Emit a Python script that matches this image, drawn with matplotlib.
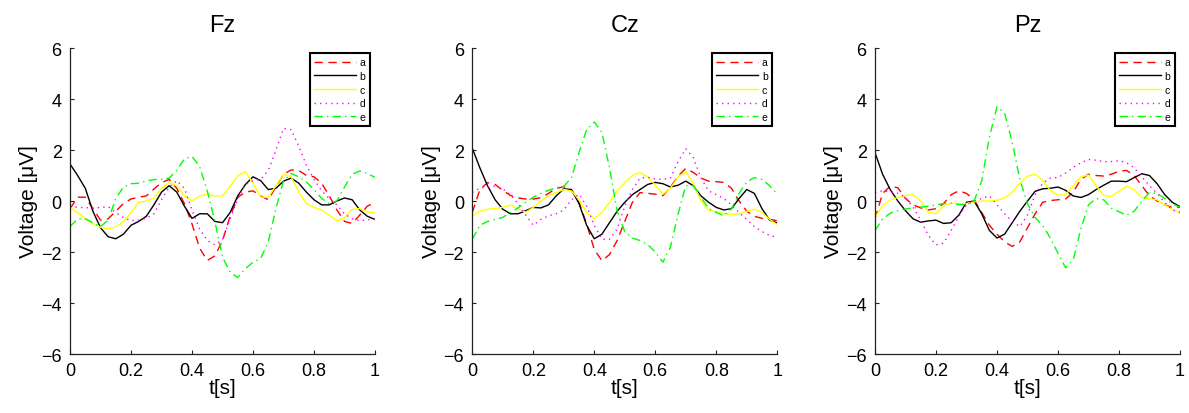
import numpy as np
import matplotlib
matplotlib.use("Agg")
import matplotlib.pyplot as plt

plt.rcParams['font.family'] = ['Liberation Sans', 'DejaVu Sans']

# time grid [s], 0.025 s steps
t = np.arange(41) * 0.025

# Fz
fz_a = [-0.3, 0.15, 0.15, -0.3, -0.75, -0.7, -0.4, -0.1, 0.08, 0.15, 0.2, 0.47, 0.72, 0.85, 0.5, -0.1,
        -0.9, -1.85, -2.33, -2.15, -1.55, -0.6, 0.15, 0.35, 0.4, 0.2, 0.05, 0.55, 1.05, 1.22, 1.2, 1.0,
        0.95, 0.7, 0.2, -0.35, -0.8, -0.88, -0.55, -0.2, -0.05]
fz_b = [1.45, 1.0, 0.5, -0.4, -1.05, -1.4, -1.48, -1.3, -0.95, -0.8, -0.6, -0.15, 0.35, 0.6, 0.35, -0.2,
        -0.68, -0.5, -0.5, -0.8, -0.85, -0.45, 0.2, 0.65, 0.95, 0.8, 0.45, 0.5, 0.78, 0.9, 0.7, 0.35,
        0.05, -0.15, -0.15, 0.0, 0.12, 0.05, -0.35, -0.6, -0.72]
fz_c = [-0.25, -0.45, -0.68, -0.88, -1.03, -1.1, -1.02, -0.8, -0.45, -0.05, 0.0, 0.1, 0.5, 0.72, 0.6, 0.2,
        0.0, 0.2, 0.26, 0.2, 0.2, 0.58, 1.0, 1.15, 0.7, 0.15, 0.15, 0.6, 1.05, 0.95, 0.35, -0.1,
        -0.25, -0.35, -0.55, -0.78, -0.65, -0.33, -0.3, -0.42, -0.47]
fz_d = [-0.2, -0.25, -0.26, -0.27, -0.25, -0.22, -0.45, -0.65, -0.77, -0.75, -0.68, -0.5, 0.05, 0.55, 0.8, 0.5,
        -0.35, -1.1, -1.55, -1.72, -1.5, -0.7, 0.1, 0.65, 0.8, 0.85, 1.2, 2.0, 2.85, 2.8, 2.15, 1.4,
        0.85, 0.4, 0.1, -0.15, -0.5, -0.7, -0.77, -0.74, -0.7]
fz_e = [-1.0, -0.7, -0.7, -0.85, -1.0, -0.75, 0.1, 0.55, 0.68, 0.7, 0.78, 0.84, 0.86, 0.9, 1.2, 1.65,
        1.75, 1.35, 0.4, -0.8, -2.2, -2.8, -3.0, -2.65, -2.4, -2.25, -1.6, -0.3, 0.8, 1.08, 0.95, 0.75,
        0.45, 0.1, -0.1, 0.0, 0.55, 1.05, 1.18, 1.08, 0.93]

# Cz
cz_a = [-0.45, 0.45, 0.72, 0.65, 0.42, 0.22, 0.12, 0.08, 0.08, 0.13, 0.3, 0.5, 0.56, 0.45, -0.05, -0.9,
        -1.9, -2.34, -2.1, -1.55, -0.8, -0.05, 0.33, 0.3, 0.27, 0.21, 0.55, 0.98, 1.28, 1.12, 0.9, 0.78,
        0.76, 0.73, 0.5, 0.0, -0.4, -0.6, -0.68, -0.72, -0.77]
cz_b = [2.07, 1.3, 0.6, 0.05, -0.32, -0.5, -0.5, -0.38, -0.25, -0.27, -0.15, 0.2, 0.48, 0.45, -0.1, -0.95,
        -1.48, -1.3, -0.85, -0.4, -0.05, 0.25, 0.45, 0.65, 0.73, 0.68, 0.55, 0.62, 0.78, 0.6, 0.2, -0.05,
        -0.25, -0.35, -0.3, 0.1, 0.45, 0.3, -0.3, -0.75, -0.86]
cz_c = [-0.58, -0.4, -0.32, -0.29, -0.25, -0.16, -0.3, -0.44, -0.25, 0.0, 0.2, 0.33, 0.45, 0.4, 0.05, -0.45,
        -0.68, -0.45, -0.05, 0.4, 0.72, 1.0, 1.12, 0.95, 0.62, 0.27, 0.5, 0.95, 1.15, 0.7, 0.0, -0.35,
        -0.42, -0.5, -0.52, -0.5, -0.4, -0.32, -0.45, -0.72, -0.93]
cz_d = [0.34, 0.5, 0.56, 0.58, 0.48, 0.25, -0.1, -0.55, -0.95, -0.72, -0.58, -0.5, -0.35, 0.05, 0.27, -0.2,
        -0.95, -1.5, -1.5, -1.1, -0.2, 0.45, 0.9, 0.93, 0.87, 0.85, 0.9, 1.55, 2.05, 1.7, 0.9, 0.4,
        0.25, 0.1, -0.15, -0.45, -0.72, -1.0, -1.2, -1.35, -1.42]
cz_e = [-1.5, -0.95, -0.8, -0.72, -0.64, -0.45, -0.27, -0.05, 0.15, 0.3, 0.42, 0.52, 0.58, 0.9, 1.9, 2.8,
        3.1, 2.7, 1.3, -0.4, -1.2, -1.45, -1.55, -1.7, -2.0, -2.4, -1.8, -0.5, 0.6, 0.6, 0.15, -0.3,
        -0.45, -0.58, -0.3, 0.3, 0.75, 0.92, 0.85, 0.6, 0.27]

# Pz
pz_a = [-0.7, 0.3, 0.58, 0.52, 0.1, -0.15, -0.27, -0.35, -0.3, -0.1, 0.25, 0.4, 0.3, 0.05, -0.45, -0.95,
        -1.3, -1.6, -1.78, -1.6, -1.05, -0.5, -0.05, 0.02, 0.05, 0.08, 0.35, 0.85, 1.05, 1.0, 0.98, 1.05,
        1.17, 1.2, 1.0, 0.6, 0.21, 0.0, -0.15, -0.25, -0.25]
pz_b = [1.9, 1.05, 0.45, 0.0, -0.38, -0.7, -0.83, -0.78, -0.75, -0.88, -0.85, -0.55, -0.05, 0.0, -0.5, -1.15,
        -1.45, -1.3, -0.85, -0.4, 0.0, 0.38, 0.48, 0.5, 0.55, 0.42, 0.2, 0.14, 0.25, 0.45, 0.62, 0.78,
        0.78, 0.76, 0.92, 1.07, 1.0, 0.68, 0.25, -0.05, -0.22]
pz_c = [-0.64, -0.18, 0.04, 0.14, 0.21, 0.25, 0.0, -0.45, -0.5, -0.2, -0.08, -0.1, -0.1, -0.03, 0.0, 0.0,
        0.03, 0.12, 0.34, 0.7, 0.98, 1.05, 0.8, 0.42, 0.22, 0.25, 0.6, 0.95, 1.02, 0.6, 0.22, 0.18,
        0.38, 0.58, 0.45, 0.14, 0.08, 0.05, -0.15, -0.32, -0.47]
pz_d = [0.34, 0.4, 0.36, 0.3, 0.15, -0.25, -0.75, -1.35, -1.72, -1.65, -1.15, -0.6, -0.15, 0.0, 0.1, 0.2,
        -0.15, -0.5, -0.8, -1.0, -0.55, 0.25, 0.7, 0.9, 0.92, 1.1, 1.32, 1.5, 1.63, 1.6, 1.54, 1.55,
        1.58, 1.5, 1.3, 0.95, 0.6, 0.3, -0.05, -0.35, -0.44]
pz_e = [-1.16, -0.7, -0.48, -0.38, -0.31, -0.27, -0.24, -0.2, -0.15, -0.1, -0.08, -0.14, -0.14, 0.0, 0.8, 2.5,
        3.7, 3.45, 2.3, 0.85, -0.1, -0.65, -0.97, -1.45, -2.05, -2.62, -2.3, -1.1, -0.15, 0.1, 0.05, -0.28,
        -0.42, -0.56, -0.4, 0.0, 0.34, 0.3, 0.1, -0.1, -0.25]

titles = ['Fz', 'Cz', 'Pz']
labels = ['a', 'b', 'c', 'd', 'e']
xticks = [0, 0.2, 0.4, 0.6, 0.8, 1]
xtick_labels = ['0', '0.2', '0.4', '0.6', '0.8', '1']
yticks = [-6, -4, -2, 0, 2, 4, 6]

panels = [[fz_a, fz_b, fz_c, fz_d, fz_e],
          [cz_a, cz_b, cz_c, cz_d, cz_e],
          [pz_a, pz_b, pz_c, pz_d, pz_e]]

colors = ['#ff0000', '#000000', '#ffff00', '#ff00ff', '#00ff00']
styles = [(0, (6, 4)), '-', '-', (0, (1, 3)), (0, (6, 3, 1, 3))]

fig = plt.figure(figsize=(11.89, 4.14), dpi=100)
lefts = [0.0589, 0.3972, 0.7359]

for i in range(3):
    ax = fig.add_axes([lefts[i], 0.1425, 0.2565, 0.739])
    for y, lab, c, ls in zip(panels[i], labels, colors, styles):
        ax.plot(t, y, color=c, linestyle=ls, linewidth=1, label=lab)
    ax.set_xlim(0, 1)
    ax.set_ylim(-6, 6)
    ax.set_xticks(xticks)
    ax.set_xticklabels(xtick_labels)
    ax.set_yticks(yticks)
    ax.tick_params(direction='in', length=3, labelsize=13, pad=6, colors='#222222', labelcolor='black')
    ax.spines['top'].set_visible(False)
    ax.spines['right'].set_visible(False)
    for s in ['left', 'bottom']:
        ax.spines[s].set_color('#222222')
        ax.spines[s].set_linewidth(0.9)
    ax.set_title(titles[i], fontsize=17, pad=12)
    ax.set_xlabel('t[s]', fontsize=15, labelpad=-1)
    ax.set_ylabel('Voltage [μV]', fontsize=15, labelpad=2)
    leg = ax.legend(loc='upper right', fontsize=7.5, handlelength=4, labelspacing=0.35,
                    borderaxespad=0.5, fancybox=False, framealpha=1, borderpad=0.4,
                    handletextpad=0.4)
    leg.get_frame().set_edgecolor('black')
    leg.get_frame().set_linewidth(1.5)

fig.savefig('out.png', dpi=100)
